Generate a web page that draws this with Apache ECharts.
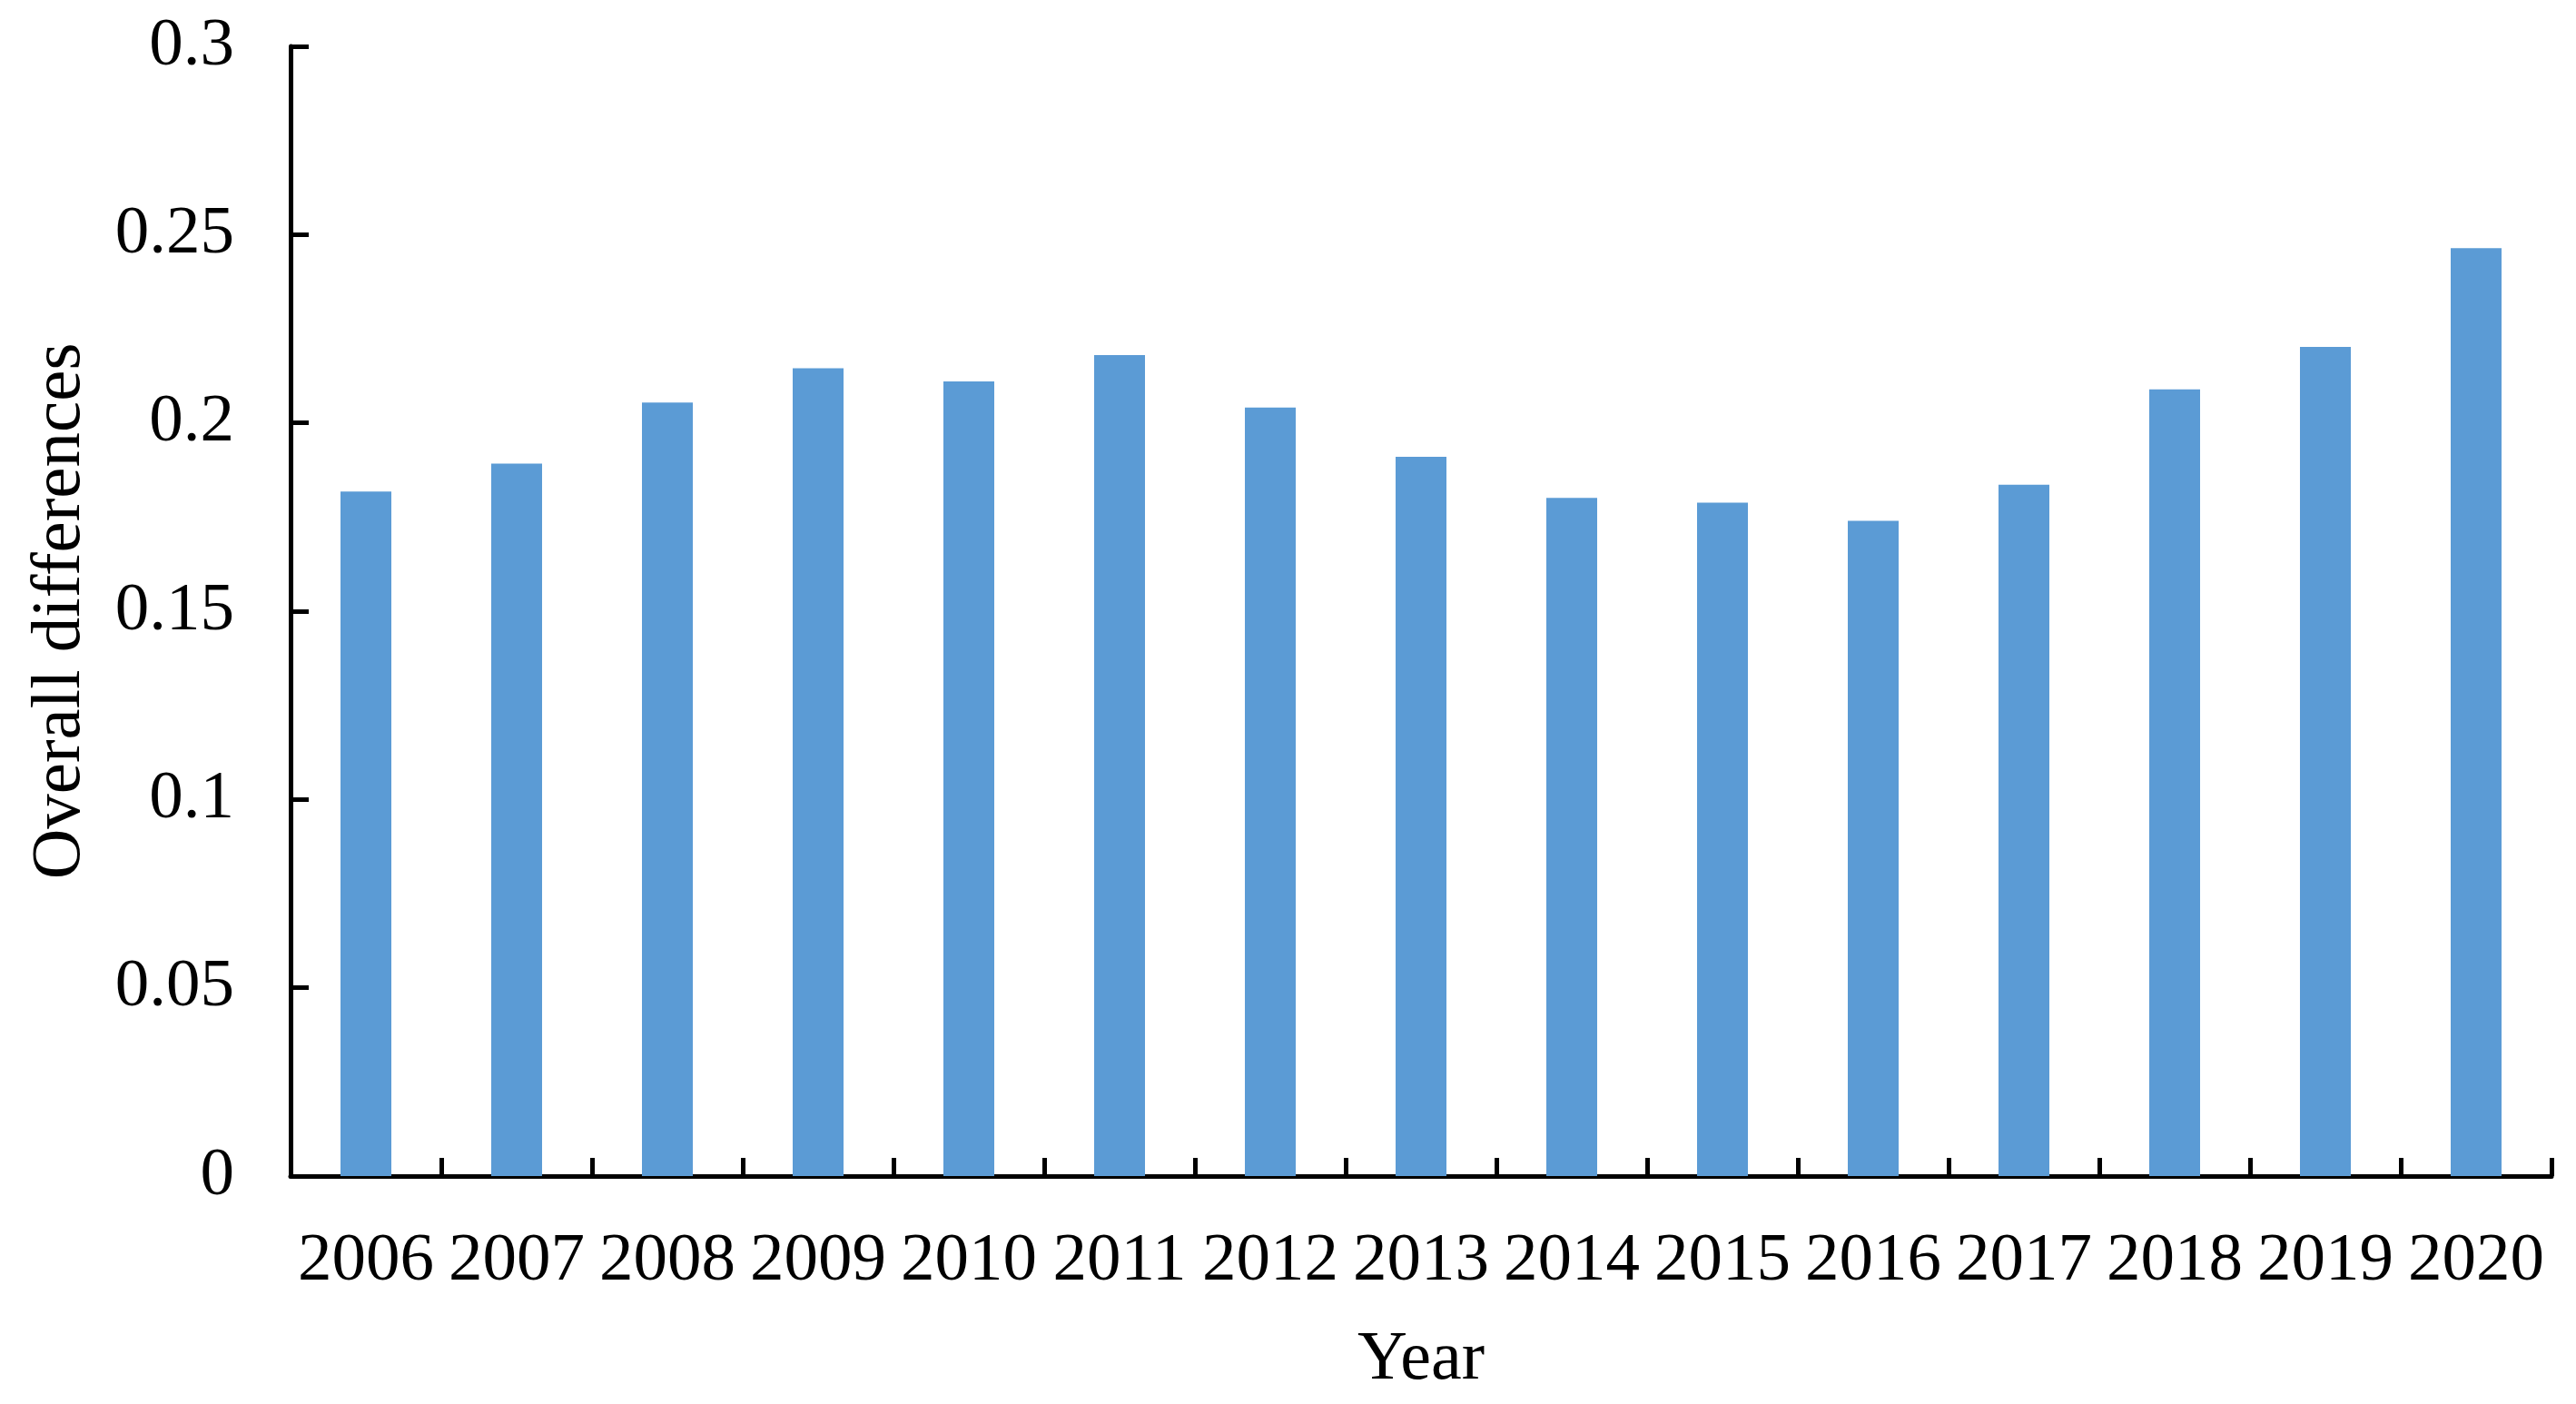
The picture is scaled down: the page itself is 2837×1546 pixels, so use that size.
<!DOCTYPE html>
<html>
<head>
<meta charset="utf-8">
<script src="https://cdn.jsdelivr.net/npm/echarts@6/dist/echarts.min.js"></script>
<style>html,body{margin:0;padding:0;background:#fff}#c{width:2837px;height:1546px}</style>
</head>
<body>
<div id="c"></div>
<script>
const years = ['2006','2007','2008','2009','2010','2011','2012','2013','2014','2015','2016','2017','2018','2019','2020'];
const overallDifferences = [0.1818,0.1892,0.2054,0.2145,0.2110,0.2180,0.2041,0.1910,0.1801,0.1788,0.1740,0.1836,0.2089,0.2202,0.2464];
const yTicks = {min: 0, max: 0.3, interval: 0.05};

const font = '"Liberation Serif","Times New Roman",serif';
const chart = echarts.init(document.getElementById('c'));
chart.setOption({
  animation: false,
  backgroundColor: '#fff',
  grid: {left: 320, right: 27, top: 51, bottom: 251, containLabel: false},
  xAxis: {
    type: 'category',
    data: years,
    name: 'Year',
    nameLocation: 'middle',
    nameGap: 165,
    nameTextStyle: {fontFamily: font, fontSize: 76, color: '#000'},
    axisLine: {lineStyle: {color: '#000', width: 5}},
    axisTick: {show: true, inside: true, length: 20, lineStyle: {color: '#000', width: 5}},
    axisLabel: {fontFamily: font, fontSize: 75, color: '#000', margin: 57, interval: 0}
  },
  yAxis: {
    type: 'value',
    min: yTicks.min, max: yTicks.max, interval: yTicks.interval,
    name: 'Overall differences',
    nameLocation: 'middle',
    nameGap: 215,
    nameTextStyle: {fontFamily: font, fontSize: 77, color: '#000'},
    axisLine: {show: true, lineStyle: {color: '#000', width: 5}},
    axisTick: {show: true, inside: true, length: 20, lineStyle: {color: '#000', width: 5}},
    splitLine: {show: false},
    axisLabel: {fontFamily: font, fontSize: 75, color: '#000', margin: 62}
  },
  series: [{
    type: 'bar',
    data: overallDifferences,
    barWidth: 56,
    itemStyle: {color: '#5B9BD5'}
  }]
});
</script>
</body>
</html>
